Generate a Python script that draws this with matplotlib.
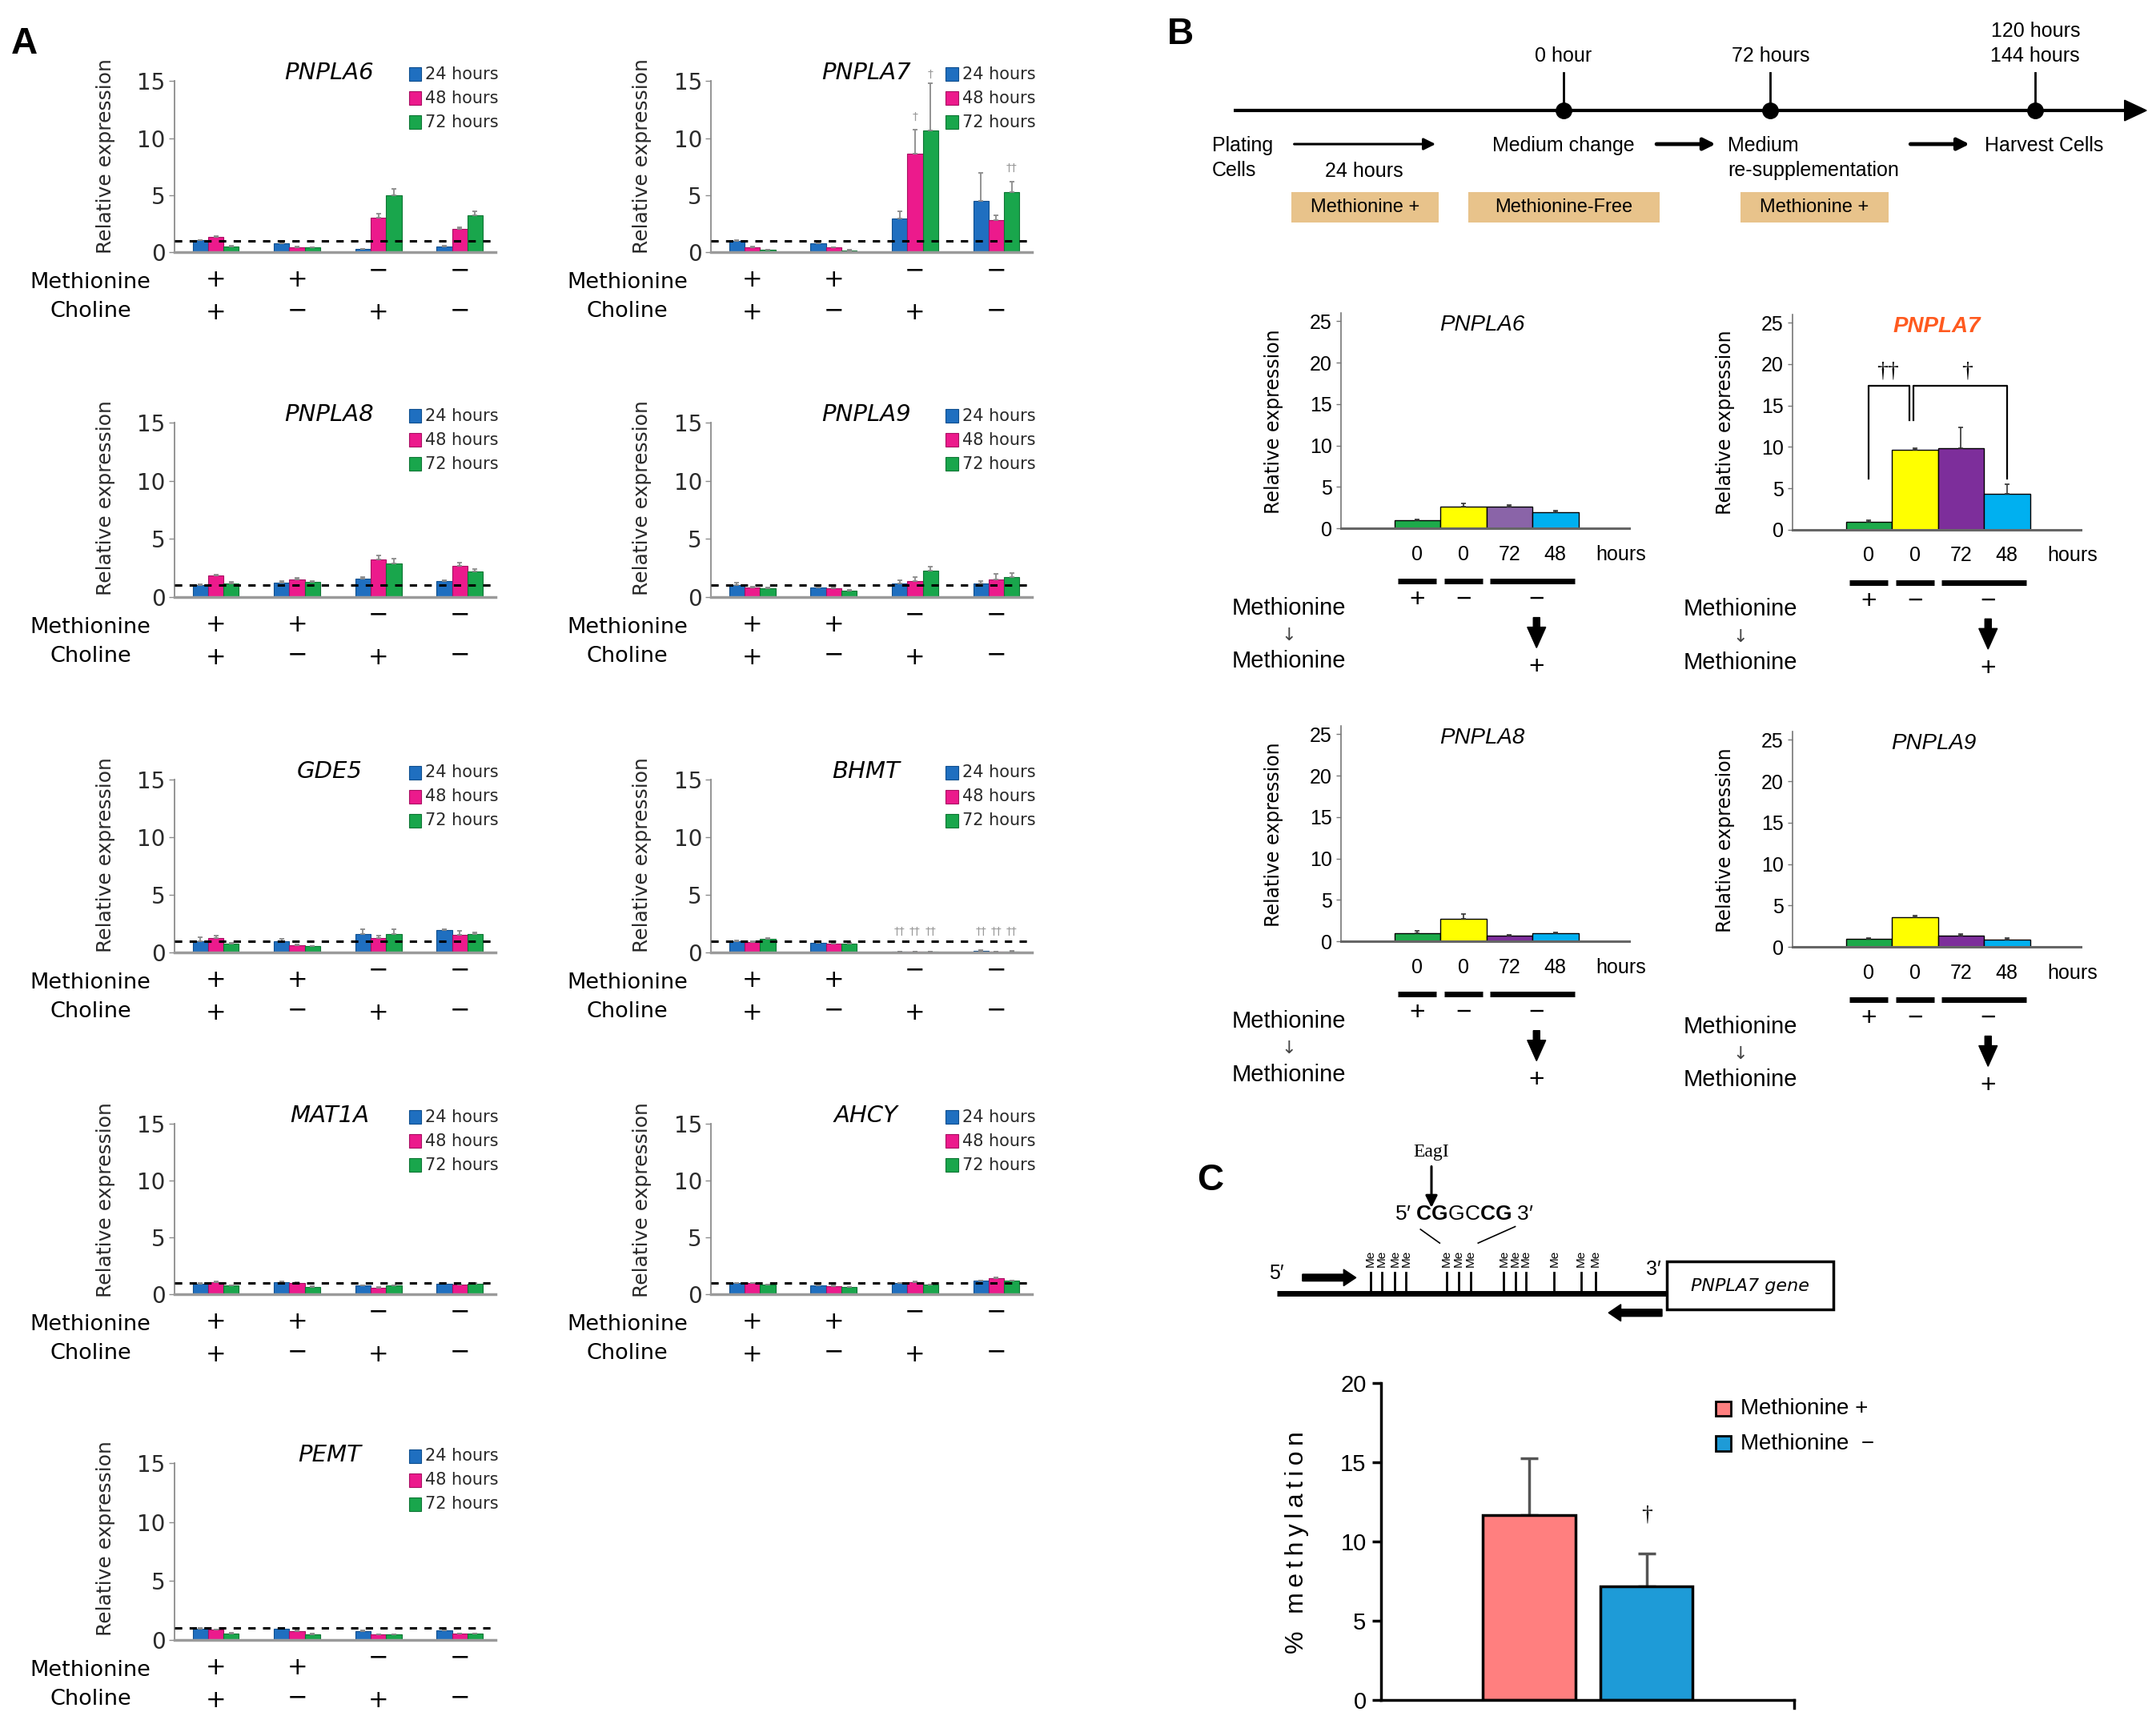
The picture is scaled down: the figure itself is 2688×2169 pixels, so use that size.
import matplotlib
matplotlib.use("Agg")
import matplotlib.pyplot as plt
import numpy as np
from matplotlib import font_manager, transforms
from matplotlib.patches import Rectangle, Polygon

_installed = {f.name for f in font_manager.fontManager.ttflist}
ARIAL = "Liberation Sans" if "Liberation Sans" in _installed else "DejaVu Sans"
SERIF = "Liberation Serif" if "Liberation Serif" in _installed else "DejaVu Serif"
VERD = "DejaVu Sans"

plt.rcParams["font.family"] = [VERD]
plt.rcParams["mathtext.fontset"] = "custom"
plt.rcParams["mathtext.rm"] = ARIAL
plt.rcParams["mathtext.bf"] = ARIAL + ":bold"

# ---------------- Panel A: 4 culture conditions x 3 time points ----------------
a_genes = ["PNPLA6", "PNPLA7", "PNPLA8", "PNPLA9", "GDE5", "BHMT", "MAT1A", "AHCY", "PEMT"]
a_hours = ["24 hours", "48 hours", "72 hours"]
a_methionine = ["+", "+", "−", "−"]
a_choline = ["+", "−", "+", "−"]

# rows: 24 h, 48 h, 72 h ; columns: the four conditions
pnpla6_a = [[1.05, 0.77, 0.28, 0.53], [1.33, 0.47, 3.07, 2.09], [0.53, 0.42, 5.00, 3.26]]
pnpla6_a_err = [[0.05, 0.05, 0.03, 0.05], [0.10, 0.05, 0.30, 0.08], [0.05, 0.03, 0.58, 0.35]]
pnpla7_a = [[1.00, 0.79, 2.98, 4.48], [0.48, 0.43, 8.64, 2.81], [0.24, 0.19, 10.64, 5.31]]
pnpla7_a_err = [[0.10, 0.10, 0.60, 2.48], [0.05, 0.05, 2.07, 0.43], [0.03, 0.03, 4.17, 0.88]]
pnpla8_a = [[1.03, 1.26, 1.60, 1.37], [1.83, 1.49, 3.25, 2.68], [1.19, 1.30, 2.90, 2.22]]
pnpla8_a_err = [[0.05, 0.10, 0.10, 0.10], [0.10, 0.15, 0.30, 0.25], [0.10, 0.10, 0.40, 0.20]]
pnpla9_a = [[1.00, 0.85, 1.15, 1.15], [0.80, 0.73, 1.38, 1.50], [0.75, 0.57, 2.23, 1.72]]
pnpla9_a_err = [[0.20, 0.10, 0.30, 0.20], [0.10, 0.10, 0.30, 0.50], [0.10, 0.05, 0.35, 0.35]]
gde5_a = [[1.00, 0.95, 1.62, 1.97], [1.27, 0.65, 1.23, 1.50], [0.76, 0.53, 1.62, 1.62]]
gde5_a_err = [[0.35, 0.20, 0.40, 0.05], [0.20, 0.05, 0.20, 0.35], [0.05, 0.05, 0.40, 0.10]]
bhmt_a = [[1.00, 0.81, 0.08, 0.15], [0.93, 0.76, 0.05, 0.08], [1.18, 0.76, 0.05, 0.10]]
bhmt_a_err = [[0.05, 0.05, 0.02, 0.03], [0.05, 0.05, 0.02, 0.02], [0.05, 0.05, 0.02, 0.02]]
mat1a_a = [[0.93, 1.05, 0.74, 0.93], [1.05, 0.98, 0.58, 0.81], [0.74, 0.63, 0.74, 0.93]]
mat1a_a_err = [[0.05, 0.05, 0.05, 0.05], [0.05, 0.05, 0.05, 0.05], [0.05, 0.05, 0.05, 0.05]]
ahcy_a = [[0.95, 0.76, 0.95, 1.17], [0.95, 0.69, 1.05, 1.40], [0.81, 0.60, 0.81, 1.17]]
ahcy_a_err = [[0.05, 0.05, 0.05, 0.05], [0.05, 0.05, 0.05, 0.08], [0.05, 0.05, 0.05, 0.05]]
pemt_a = [[0.98, 0.93, 0.73, 0.84], [0.86, 0.77, 0.45, 0.52], [0.57, 0.50, 0.45, 0.52]]
pemt_a_err = [[0.05, 0.05, 0.05, 0.05], [0.05, 0.05, 0.03, 0.03], [0.03, 0.03, 0.03, 0.03]]

a_data = {
    "PNPLA6": (pnpla6_a, pnpla6_a_err), "PNPLA7": (pnpla7_a, pnpla7_a_err),
    "PNPLA8": (pnpla8_a, pnpla8_a_err), "PNPLA9": (pnpla9_a, pnpla9_a_err),
    "GDE5": (gde5_a, gde5_a_err), "BHMT": (bhmt_a, bhmt_a_err),
    "MAT1A": (mat1a_a, mat1a_a_err), "AHCY": (ahcy_a, ahcy_a_err),
    "PEMT": (pemt_a, pemt_a_err),
}
# significance marks: (condition, time point, height, mark)
a_daggers = {
    "PNPLA7": [(2, 1, 11.9, "†"), (2, 2, 15.6, "†"), (3, 2, 7.4, "††")],
    "BHMT": [(2, 0, 1.8, "††"), (2, 1, 1.8, "††"), (2, 2, 1.8, "††"),
             (3, 0, 1.8, "††"), (3, 1, 1.8, "††"), (3, 2, 1.8, "††")],
}
a_colors = ["#1F6FC0", "#EC1A8C", "#19A64C"]
a_edges = ["#0E4E8E", "#A80F62", "#0E7534"]

# ---------------- Panel B: methionine free -> re-supplementation ----------------
b_hours = ["0", "0", "72", "48"]
b_signs = ["+", "−", "−"]
pnpla6_b = [0.95, 2.66, 2.66, 1.98]
pnpla6_b_err = [0.15, 0.30, 0.15, 0.20]
pnpla7_b = [0.99, 9.67, 9.88, 4.33]
pnpla7_b_err = [0.15, 0.15, 2.45, 1.19]
pnpla8_b = [1.00, 2.73, 0.68, 1.00]
pnpla8_b_err = [0.30, 0.58, 0.10, 0.10]
pnpla9_b = [1.00, 3.63, 1.38, 0.90]
pnpla9_b_err = [0.10, 0.15, 0.20, 0.20]
b_colors = ["#1DAA4A", "#FFFF00", "#7D2E9B", "#00B0F0"]

timeline_marks = ["0 hour", "72 hours", "120 hours\n144 hours"]
timeline_boxes = ["Methionine +", "Methionine-Free", "Methionine +"]

# ---------------- Panel C: % methylation ----------------
c_groups = ["Methionine +", "Methionine −"]
c_values = [11.7, 7.2]
c_err = [3.55, 2.07]
c_colors = ["#FF7F7F", "#1E9BD7"]

# ---------------------------------------------------------------------------
W, H = 1568, 1265  # layout grid of the reference


def rect(l, t, r, b):
    return [l / W, 1 - b / H, (r - l) / W, (b - t) / H]


fig = plt.figure(figsize=(26.88, 21.69), dpi=100)
ov = fig.add_axes([0, 0, 1, 1])
ov.set_xlim(0, W)
ov.set_ylim(H, 0)
ov.axis("off")

# panel letters
ov.text(18, 32, "A", fontsize=33, fontweight="bold", family=ARIAL, ha="center", va="center")
ov.text(860, 25, "B", fontsize=33, fontweight="bold", family=ARIAL, ha="center", va="center")
ov.text(882, 860, "C", fontsize=33, fontweight="bold", family=ARIAL, ha="center", va="center")

# ---------------- Panel A ----------------
a_left = [127, 518]
a_top = [59, 308, 568, 819, 1066]
a_zero = [184, 435, 694, 943, 1195]
a_w = 234
bw = 0.19
x4 = np.arange(4)

for k, gene in enumerate(a_genes):
    row, col = divmod(k, 2)
    l, t, z = a_left[col], a_top[row], a_zero[row]
    ax = fig.add_axes(rect(l, t, l + a_w, z))
    ax.patch.set_alpha(0)
    vals, errs = a_data[gene]
    for s in range(3):
        xs = x4 + (s - 1) * bw
        ax.bar(xs, vals[s], bw, color=a_colors[s], edgecolor=a_edges[s], lw=0.8, zorder=2)
        ax.errorbar(xs, vals[s], yerr=[np.zeros(4), errs[s]], fmt="none", ecolor="#8a8a8a",
                    elinewidth=1.3, capsize=2.5, capthick=1.3, zorder=3)
    ax.axhline(1, color="black", ls=(0, (3, 3)), lw=2.2, zorder=4)
    for g, s, yv, mark in a_daggers.get(gene, []):
        ax.text(g + (s - 1) * bw, yv, mark, ha="center", va="center", fontsize=10,
                color="#9a9a9a", clip_on=False)
    ax.set_xlim(-0.51, 3.44)
    ax.set_ylim(0, 15)
    ax.set_xticks([])
    ax.set_yticks([0, 5, 10, 15])
    for sp in ("top", "right"):
        ax.spines[sp].set_visible(False)
    ax.spines["left"].set_color("#8c8c8c")
    ax.spines["left"].set_linewidth(1.3)
    ax.spines["bottom"].set_color("#9a9a9a")
    ax.spines["bottom"].set_linewidth(2.5)
    ax.tick_params(axis="y", direction="out", length=5, width=1, color="#8c8c8c",
                   labelsize=20, labelcolor="#2a2a2a", pad=3)

    ov.text(l - 50, t + 55, "Relative expression", rotation=90, ha="center", va="center",
            fontsize=18, color="#2a2a2a")
    ov.text(l + 113, t - 6, gene, style="italic", fontsize=21, ha="center", va="center")
    for s in range(3):
        yy = t - 5 + s * 17.5
        ov.add_patch(Rectangle((l + 171, yy - 5), 9, 10, facecolor=a_colors[s],
                               edgecolor=a_edges[s], lw=0.8))
        ov.text(l + 183, yy, a_hours[s], fontsize=15, va="center", ha="left", color="#2a2a2a")

    ov.text(l - 61, z + 22, "Methionine", ha="center", va="center", fontsize=19.5)
    ov.text(l - 61, z + 43, "Choline", ha="center", va="center", fontsize=19.5)
    tr = transforms.blended_transform_factory(ax.transData, ov.transData)
    for i in range(4):
        m = a_methionine[i]
        ax.text(i, z + (20 if m == "+" else 13), m, transform=tr, ha="center", va="center",
                fontsize=22, clip_on=False)
        c = a_choline[i]
        ax.text(i, z + (44 if c == "+" else 42), c, transform=tr, ha="center", va="center",
                fontsize=22, clip_on=False)

# ---------------- Panel B: timeline ----------------
tl_y = 80.5
ov.plot([899, 1550], [tl_y, tl_y], color="black", lw=3, solid_capstyle="butt")
ov.add_patch(Polygon([[1548, tl_y - 7.5], [1564, tl_y], [1548, tl_y + 7.5]], closed=True,
                     color="black"))
tl_x = [1139, 1290, 1483]
for xx, lab in zip(tl_x, timeline_marks):
    ov.plot([xx, xx], [53, tl_y], color="black", lw=2)
    ov.plot(xx, tl_y, "o", color="black", ms=14)
    if "\n" in lab:
        l1, l2 = lab.split("\n")
        ov.text(xx, 23, l1, ha="center", va="center", fontsize=18, family=ARIAL)
        ov.text(xx, 41, l2, ha="center", va="center", fontsize=18, family=ARIAL)
    else:
        ov.text(xx, 41, lab, ha="center", va="center", fontsize=18, family=ARIAL)

ov.text(883, 106, "Plating", ha="left", va="center", fontsize=18, family=ARIAL)
ov.text(883, 124, "Cells", ha="left", va="center", fontsize=18, family=ARIAL)
ov.text(994, 125, "24 hours", ha="center", va="center", fontsize=18, family=ARIAL)
ov.text(1139, 106, "Medium change", ha="center", va="center", fontsize=18, family=ARIAL)
ov.text(1259, 106, "Medium", ha="left", va="center", fontsize=18, family=ARIAL)
ov.text(1259, 124, "re-supplementation", ha="left", va="center", fontsize=18, family=ARIAL)
ov.text(1446, 106, "Harvest Cells", ha="left", va="center", fontsize=18, family=ARIAL)
for (x0, x1, lw) in [(943, 1046, 2.2), (1207, 1250, 3.5), (1392, 1435, 3.5)]:
    ov.annotate("", xy=(x1, 105), xytext=(x0, 105),
                arrowprops=dict(arrowstyle="-|>", lw=lw, color="black", mutation_scale=22,
                                shrinkA=0, shrinkB=0))
for (x0, x1), lab in zip([(941, 1048), (1070, 1209), (1268, 1376)], timeline_boxes):
    ov.add_patch(Rectangle((x0, 140), x1 - x0, 22, facecolor="#E8C38B", edgecolor="none"))
    ov.text((x0 + x1) / 2, 151, lab, ha="center", va="center", fontsize=17, family=ARIAL)

# ---------------- Panel B: bar charts ----------------
b_panels = [
    ("PNPLA6", pnpla6_b, pnpla6_b_err, 977, 228, 385, "#8A64A8"),
    ("PNPLA7", pnpla7_b, pnpla7_b_err, 1306, 229, 386, b_colors[2]),
    ("PNPLA8", pnpla8_b, pnpla8_b_err, 977, 529, 686, b_colors[2]),
    ("PNPLA9", pnpla9_b, pnpla9_b_err, 1306, 533, 690, b_colors[2]),
]
for gene, vals, errs, l, t, z, purple in b_panels:
    ax = fig.add_axes(rect(l, t, l + 210, z))
    ax.patch.set_alpha(0)
    cols = [b_colors[0], b_colors[1], purple, b_colors[3]]
    ax.bar(x4, vals, 1.0, color=cols, edgecolor="black", lw=1.0, zorder=2)
    ax.errorbar(x4, vals, yerr=[np.zeros(4), errs], fmt="none", ecolor="#333333",
                elinewidth=1.2, capsize=2, capthick=1.2, zorder=3)
    ax.set_xlim(-1.66, 4.6)
    ax.set_ylim(0, 26)
    ax.set_xticks([])
    ax.set_yticks([0, 5, 10, 15, 20, 25])
    for sp in ("top", "right"):
        ax.spines[sp].set_visible(False)
    ax.spines["left"].set_color("#777777")
    ax.spines["left"].set_linewidth(1.2)
    ax.spines["bottom"].set_color("#666666")
    ax.spines["bottom"].set_linewidth(2.2)
    ax.tick_params(axis="y", direction="out", length=4, width=1, color="#777777",
                   labelsize=18, pad=4)
    for lb in ax.get_yticklabels():
        lb.set_family(ARIAL)

    if gene == "PNPLA7":
        ov.text(l + 105, t + 9, gene, style="italic", fontweight="bold", fontsize=20,
                color="#FF5A1F", ha="center", va="center", family=ARIAL)
        ax.plot([0, 0, 0.88, 0.88], [6.2, 17.4, 17.4, 13.2], color="black", lw=1.6)
        ax.plot([0.97, 0.97, 3, 3], [13.2, 17.4, 17.4, 6.2], color="black", lw=1.6)
        ax.text(0.42, 19.1, "††", ha="center", va="center", fontsize=20, family=SERIF)
        ax.text(2.14, 19.1, "†", ha="center", va="center", fontsize=20, family=SERIF)
    else:
        ov.text(l + 103, t + 9, gene, style="italic", fontsize=20, ha="center", va="center",
                family=ARIAL)

    ov.text(l - 49, z - 78, "Relative expression", rotation=90, ha="center", va="center",
            fontsize=17)
    tr = transforms.blended_transform_factory(ax.transData, ov.transData)
    for i, hl in enumerate(b_hours):
        ax.text(i, z + 19, hl, transform=tr, ha="center", va="center", fontsize=18,
                family=ARIAL, clip_on=False)
    ov.text(l + 204, z + 19, "hours", ha="center", va="center", fontsize=18, family=ARIAL)
    for x0, x1 in [(-0.42, 0.42), (0.58, 1.42), (1.58, 3.42)]:
        ax.plot([x0, x1], [z + 38.6, z + 38.6], transform=tr, color="black", lw=5,
                solid_capstyle="butt", clip_on=False)
    for xs, sg in zip([0, 1, 2.59], b_signs):
        ax.text(xs, z + 52, sg, transform=tr, ha="center", va="center", fontsize=24,
                family=ARIAL, clip_on=False)
    xa = 2.59
    ax.add_patch(Polygon([[xa - 0.07, z + 65], [xa + 0.07, z + 65], [xa + 0.07, z + 72],
                          [xa + 0.2, z + 72], [xa, z + 87], [xa - 0.2, z + 72],
                          [xa - 0.07, z + 72]], closed=True, color="black", transform=tr,
                         clip_on=False))
    ax.text(xa, z + 101, "+", transform=tr, ha="center", va="center", fontsize=24,
            family=ARIAL, clip_on=False)
    ov.text(l - 38, z + 58, "Methionine", ha="center", va="center", fontsize=21, family=ARIAL)
    ov.text(l - 38, z + 78, "↓", ha="center", va="center", fontsize=16, color="#444444")
    ov.text(l - 38, z + 97, "Methionine", ha="center", va="center", fontsize=21, family=ARIAL)

# ---------------- Panel C: gene diagram ----------------
cpg_sites = [998.5, 1006.7, 1016.4, 1024.6, 1053.8, 1062.8, 1071.4, 1095.7, 1104.0,
             1111.8, 1132.4, 1151.9, 1162.3]
ov.plot([930.5, 1214.6], [942.6, 942.6], color="black", lw=5, solid_capstyle="butt")
for xs in cpg_sites:
    ov.plot([xs, xs], [927.5, 942.6], color="black", lw=2)
    ov.text(xs, 917, "Me", rotation=90, ha="center", va="center", fontsize=11, family=ARIAL)
ov.add_patch(Polygon([[949, 928.5], [979, 928.5], [979, 925], [988, 931], [979, 937],
                      [979, 933.5], [949, 933.5]], closed=True, color="black"))
ov.add_patch(Polygon([[1211, 954], [1181, 954], [1181, 950.5], [1172, 956.6], [1181, 962.7],
                      [1181, 959.2], [1211, 959.2]], closed=True, color="black"))
ov.text(930, 928, "5′", ha="center", va="center", fontsize=18, family=ARIAL)
ov.text(1205, 925, "3′", ha="center", va="center", fontsize=18, family=ARIAL)
ov.add_patch(Rectangle((1214.6, 919.4), 121.4, 34.6, facecolor="white", edgecolor="black",
                       lw=2.5))
ov.text(1275, 937, "PNPLA7 gene", style="italic", ha="center", va="center", fontsize=16)
ov.text(1043, 839.5, "EagI", ha="center", va="center", fontsize=17, family=SERIF)
ov.annotate("", xy=(1043, 880), xytext=(1043, 850),
            arrowprops=dict(arrowstyle="-|>", lw=2.2, color="black", mutation_scale=22,
                            shrinkA=0, shrinkB=0))
ov.text(1067, 885, r"5′ $\mathbf{CG}$GC$\mathbf{CG}$ 3′", ha="center", va="center",
        fontsize=19, family=ARIAL)
ov.plot([1035, 1049], [895.8, 905.8], color="black", lw=1.2)
ov.plot([1104, 1077], [893.8, 905.8], color="black", lw=1.2)

# ---------------- Panel C: bar chart ----------------
axc = fig.add_axes(rect(1006, 1007.8, 1307, 1239))
axc.patch.set_alpha(0)
cx = [0, 1.27]
axc.bar(cx, c_values, 1.0, color=c_colors, edgecolor="black", lw=2.5, zorder=2)
axc.errorbar(cx, c_values, yerr=[[0, 0], c_err], fmt="none", ecolor="#555555",
             elinewidth=2.5, capsize=8, capthick=2.5, zorder=1)
axc.text(cx[1], 11.7, "†", ha="center", va="center", fontsize=20, family=SERIF)
axc.set_xlim(-1.6, 2.86)
axc.set_ylim(0, 20)
axc.set_xticks([])
axc.set_yticks([0, 5, 10, 15, 20])
for sp in ("top", "right"):
    axc.spines[sp].set_visible(False)
for sp in ("left", "bottom"):
    axc.spines[sp].set_linewidth(2.5)
axc.plot([2.86, 2.86], [0, -0.5], color="black", lw=2.5, clip_on=False)
axc.tick_params(axis="y", direction="out", length=8, width=2.5, labelsize=21, pad=5)
for lb in axc.get_yticklabels():
    lb.set_family(ARIAL)
ov.text(945, 1124, "\u2009".join("% methylation"), rotation=90, ha="center", va="center",
        fontsize=23, family=[ARIAL, VERD])
for k, lab in enumerate(c_groups):
    yy = 1026.5 + k * 25.5
    ov.add_patch(Rectangle((1250, yy - 5.5), 11, 11, facecolor=c_colors[k], edgecolor="black",
                           lw=2))
    ov.text(1268, yy, lab.replace(" −", "  −"), ha="left", va="center", fontsize=20,
            family=ARIAL)

fig.savefig("out.png", dpi=100)
